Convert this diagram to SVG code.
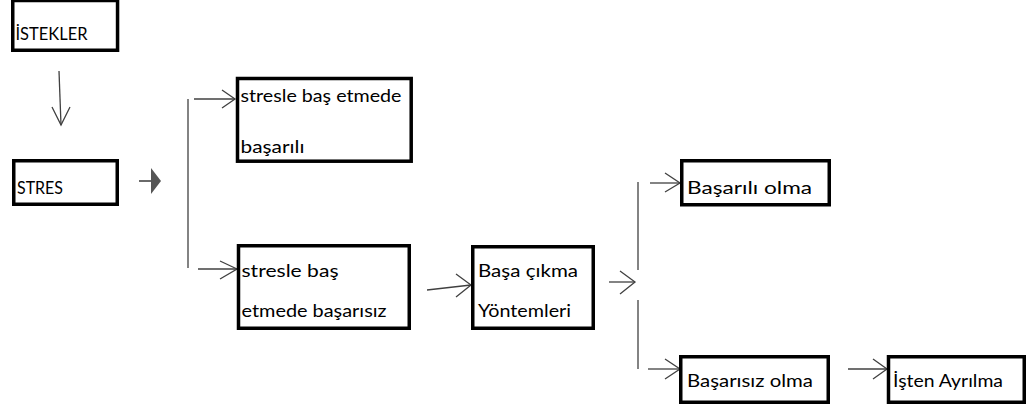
<svg xmlns="http://www.w3.org/2000/svg" width="1034" height="405" viewBox="0 0 1034 405">
  <defs>
    <style>
      .box { fill: #ffffff; stroke: #000000; stroke-width: 3.5; }
      .lbl { font-family: Lato, "Liberation Sans", sans-serif; font-size: 16.5px; fill: #000000; }
      .ln { fill: none; stroke: #404040; stroke-width: 1.3; }
      .brk { fill: none; stroke: #5a5a5a; stroke-width: 1.5; }
      .hd { fill: none; stroke: #404040; stroke-width: 1.3; stroke-linejoin: miter; }
    </style>
  </defs>
  <rect width="1034" height="405" fill="#ffffff"/>

  <!-- connectors -->
  <g id="connectors">
    <!-- İSTEKLER down to STRES -->
    <line class="ln" x1="59" y1="71" x2="61" y2="125"/>
    <polyline class="hd" points="52,107 61,125 70,107"/>
    <!-- STRES block arrow -->
    <line x1="139" y1="181" x2="152" y2="181" stroke="#6a6a6a" stroke-width="2"/>
    <polygon points="151,168 161,181 151,194" fill="#555555"/>
    <!-- left bracket -->
    <line class="brk" x1="188" y1="99" x2="188" y2="268"/>
    <line class="ln" x1="194" y1="99" x2="235" y2="99"/>
    <polyline class="hd" points="222,90 235,99 222,108"/>
    <line class="ln" x1="198" y1="269" x2="237" y2="269"/>
    <polyline class="hd" points="220,261 237,269 220,279"/>
    <!-- to Başa çıkma -->
    <line class="ln" x1="427" y1="290" x2="471" y2="285"/>
    <polyline class="hd" points="456,274 471,285 456,297"/>
    <!-- out of Başa çıkma -->
    <line class="ln" x1="609" y1="282" x2="635" y2="282"/>
    <polyline class="hd" points="620,271 635,282 620,294"/>
    <!-- right bracket -->
    <line class="brk" x1="638" y1="182" x2="638" y2="270"/>
    <line class="brk" x1="638" y1="300" x2="638" y2="369"/>
    <line class="ln" x1="650" y1="183" x2="680" y2="183"/>
    <polyline class="hd" points="665,173 680,183 665,192"/>
    <line class="ln" x1="648" y1="369" x2="680" y2="369"/>
    <polyline class="hd" points="665,359 680,369 665,379"/>
    <!-- to İşten Ayrılma -->
    <line class="ln" x1="848" y1="369" x2="887" y2="369"/>
    <polyline class="hd" points="873,359 887,369 873,379"/>
  </g>

  <g id="istekler">
    <rect class="box" x="12.75" y="0.5" width="104.8" height="49.75"/>
    <text class="lbl" x="15.5" y="40" textLength="72" lengthAdjust="spacingAndGlyphs">İSTEKLER</text>
  </g>

  <g id="stres">
    <rect class="box" x="13.75" y="160.75" width="103.5" height="43.5"/>
    <text class="lbl" x="17" y="194" textLength="46" lengthAdjust="spacingAndGlyphs">STRES</text>
  </g>

  <g id="basarili-bas-etme">
    <rect class="box" x="237.5" y="78.5" width="173.7" height="82.7"/>
    <text class="lbl" x="240.5" y="102" textLength="161" lengthAdjust="spacingAndGlyphs">stresle baş etmede</text>
    <text class="lbl" x="240.5" y="153" textLength="64" lengthAdjust="spacingAndGlyphs">başarılı</text>
  </g>

  <g id="basarisiz-bas-etme">
    <rect class="box" x="238.5" y="245.75" width="170.75" height="82.5"/>
    <text class="lbl" x="241.5" y="277" textLength="97" lengthAdjust="spacingAndGlyphs">stresle baş</text>
    <text class="lbl" x="241.5" y="317" textLength="145" lengthAdjust="spacingAndGlyphs">etmede başarısız</text>
  </g>

  <g id="basa-cikma">
    <rect class="box" x="472.75" y="246.75" width="120.5" height="81.5"/>
    <text class="lbl" x="478" y="277" textLength="100" lengthAdjust="spacingAndGlyphs">Başa çıkma</text>
    <text class="lbl" x="478" y="317" textLength="93" lengthAdjust="spacingAndGlyphs">Yöntemleri</text>
  </g>

  <g id="basarili-olma">
    <rect class="box" x="681.75" y="160.75" width="147.5" height="44"/>
    <text class="lbl" x="687" y="194" textLength="125" lengthAdjust="spacingAndGlyphs">Başarılı olma</text>
  </g>

  <g id="basarisiz-olma">
    <rect class="box" x="680.75" y="356.75" width="147.5" height="45.5"/>
    <text class="lbl" x="687" y="387" textLength="126" lengthAdjust="spacingAndGlyphs">Başarısız olma</text>
  </g>

  <g id="isten-ayrilma">
    <rect class="box" x="888.5" y="356.75" width="135.75" height="45.5"/>
    <text class="lbl" x="893" y="387" textLength="110" lengthAdjust="spacingAndGlyphs">İşten Ayrılma</text>
  </g>
</svg>
